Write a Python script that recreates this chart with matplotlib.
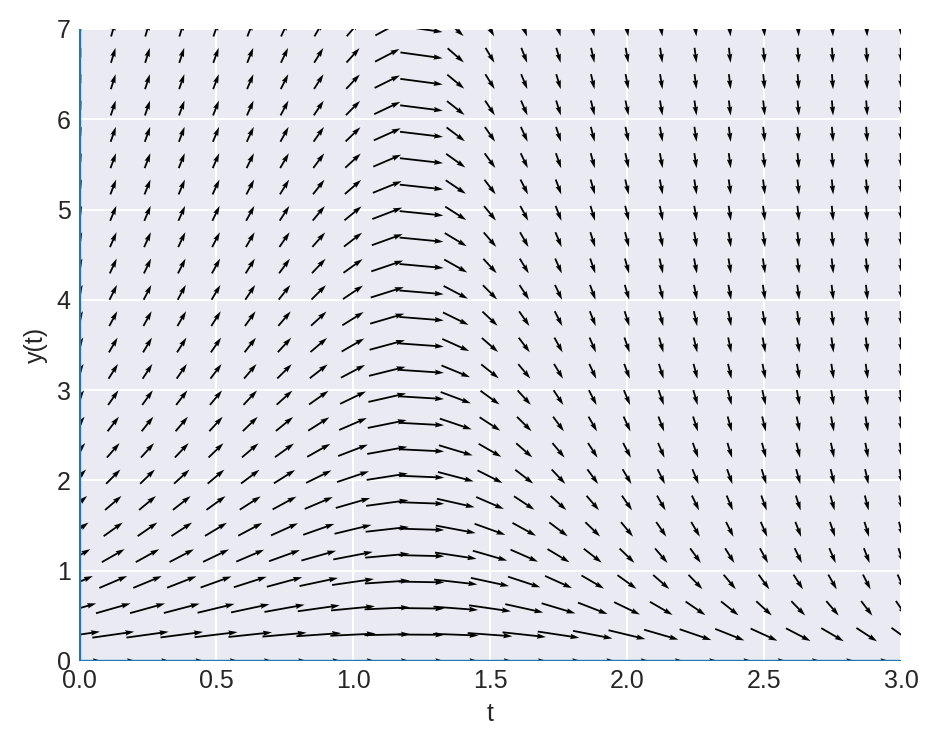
import numpy as np
import matplotlib
matplotlib.use("Agg")
import matplotlib.pyplot as plt
import seaborn as sns

# direction field for dy/dt = y * (k - t^2)
k = 1.5
t_range = [0.0, 3.0]
y_range = [0.0, 7.0]
n_pts = 25

sns.set_theme(style="darkgrid")
plt.rcParams['font.family'] = ['Liberation Sans', 'DejaVu Sans']

fig = plt.figure(figsize=(939 / 150, 749 / 150), dpi=150)
ax = fig.add_axes([79 / 939, 1 - 661 / 749, (901 - 79) / 939, (661 - 29) / 749])

t = np.linspace(t_range[0], t_range[1], n_pts)
y = np.linspace(y_range[0], y_range[1], n_pts)
T, Y = np.meshgrid(t, y)
F = Y * (k - T ** 2)
N = np.sqrt(1 + F ** 2)
U = 1 / N
V = F / N

ax.quiver(T, Y, U, V, angles='xy', scale_units='xy', scale=6.0,
          pivot='mid', width=0.0022, color='black')

# the solution line y(0)=0 and the t=0 edge
ax.plot([0, 0], [0, 7], color='#1f77b4', lw=1.6, zorder=5)
ax.plot([0, 3], [0, 0], color='#1f77b4', lw=1.6, zorder=5)

for s in ax.spines.values():
    s.set_visible(False)

ax.set_xlim(t_range)
ax.set_ylim(y_range)
ax.tick_params(labelsize=12, pad=4, length=0)
ax.set_xlabel('t', fontsize=12)
ax.set_ylabel('y(t)', fontsize=12)

fig.savefig('out.png', dpi=150)
